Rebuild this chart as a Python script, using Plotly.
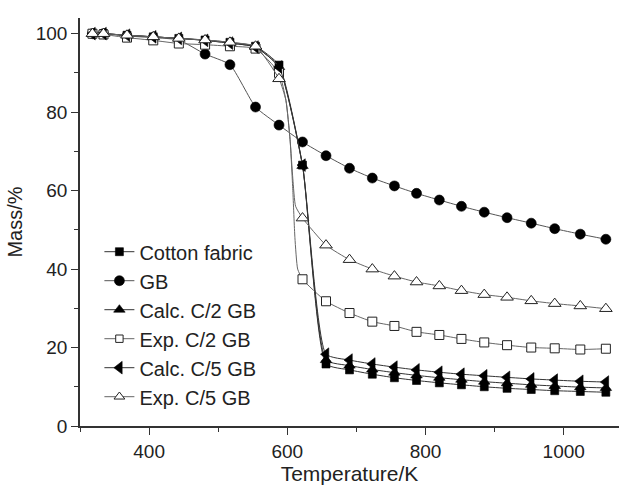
import plotly.graph_objects as go

# ---- data ----
temperature = [318, 334, 368, 406, 443, 481, 517, 554, 588, 622, 656, 690, 723,
               755, 787, 820, 852, 885, 918, 953, 987, 1024, 1061]

cotton = [100, 100, 99.6, 99.2, 98.8, 98.4, 97.8, 96.8, 92.0, 66.5, 15.8, 14.3, 13.2,
          12.3, 11.6, 11.0, 10.5, 10.0, 9.6, 9.3, 9.0, 8.8, 8.6]
gb = [100, 100, 99.4, 99.0, 98.4, 94.8, 92.1, 81.3, 76.7, 72.4, 68.9, 65.7, 63.2,
      61.2, 59.3, 57.6, 56.0, 54.5, 53.1, 51.7, 50.3, 48.9, 47.6]
calc_c2 = [100, 100, 99.6, 99.2, 98.8, 98.3, 97.6, 96.6, 91.5, 66.3, 16.8, 15.4, 14.4,
           13.6, 12.9, 12.3, 11.8, 11.3, 10.9, 10.5, 10.2, 9.9, 9.7]
exp_c2 = [100, 99.8, 99.0, 98.3, 97.5, 97.2, 96.8, 96.2, 90.0, 37.4, 31.8, 28.8, 26.6,
          25.5, 24.0, 23.2, 22.2, 21.3, 20.6, 20.0, 19.8, 19.5, 19.7]
calc_c5 = [100, 100, 99.6, 99.2, 98.8, 98.3, 97.6, 96.6, 91.5, 66.5, 18.3, 16.8, 15.8,
           15.0, 14.3, 13.7, 13.2, 12.8, 12.4, 12.0, 11.7, 11.4, 11.2]
exp_c5 = [100, 100, 99.6, 99.2, 98.8, 98.4, 97.8, 96.8, 88.5, 53.0, 46.1, 42.4, 40.0,
          38.2, 36.7, 35.7, 34.5, 33.5, 32.8, 31.9, 31.2, 30.6, 29.9]

exp_c2_drop_t = [598, 604, 608, 611, 615]
exp_c2_drop_m = [83, 73, 60, 48, 40]
exp_c5_drop_t = [598, 604, 608, 612]
exp_c5_drop_m = [83, 73, 63, 56]

names = ["Cotton fabric", "GB", "Calc. C/2 GB", "Exp. C/2 GB", "Calc. C/5 GB", "Exp. C/5 GB"]

FONT = "Liberation Sans, Arial, sans-serif"


def merged(t, m, extra_t, extra_m, size):
    pts = [(a, b, size) for a, b in zip(t, m)] + [(a, b, 0) for a, b in zip(extra_t, extra_m)]
    pts.sort(key=lambda p: p[0])
    return [p[0] for p in pts], [p[1] for p in pts], [p[2] for p in pts]


fig = go.Figure()

BLK = "#000000"
styles = [
    (cotton, [], [], dict(symbol="square", size=8, color=BLK, line=dict(width=0.6, color=BLK)), "#333333"),
    (gb, [], [], dict(symbol="circle", size=10, color=BLK, line=dict(width=0.6, color=BLK)), "#555555"),
    (calc_c2, [], [], dict(symbol="triangle-up", size=10, color=BLK, line=dict(width=0.6, color=BLK)), "#333333"),
    (exp_c2, exp_c2_drop_t, exp_c2_drop_m, dict(symbol="square", size=9, color="white", line=dict(width=1, color="#222222")), "#666666"),
    (calc_c5, [], [], dict(symbol="triangle-left", size=11, color=BLK, line=dict(width=0.6, color=BLK)), "#333333"),
    (exp_c5, exp_c5_drop_t, exp_c5_drop_m, dict(symbol="triangle-up", size=11, color="white", line=dict(width=1, color="#222222")), "#666666"),
]

for name, (vals, et, em, mk, lc) in zip(names, styles):
    xs, ys, sizes = merged(temperature, vals, et, em, mk["size"])
    mk = dict(mk)
    mk["size"] = sizes
    mk["opacity"] = 1
    fig.add_trace(go.Scatter(
        x=xs, y=ys, name=name, mode="lines+markers",
        line=dict(color=lc, width=1, shape="spline", smoothing=0.5),
        marker=mk, opacity=1,
    ))

axis_common = dict(
    showline=True, linecolor="#333333", linewidth=1.5,
    ticks="outside", ticklen=7, tickwidth=1.3, tickcolor="#333333",
    showgrid=False, zeroline=False, mirror=False, automargin=False,
    tickfont=dict(family=FONT, size=19, color="#222222"),
)

fig.update_layout(
    width=619, height=491,
    margin=dict(l=80, r=0, t=18, b=65),
    paper_bgcolor="white", plot_bgcolor="white",
    font=dict(family=FONT, color="#222222"),
    showlegend=True,
    legend=dict(
        x=0.036, y=0.475, xanchor="left", yanchor="top",
        font=dict(family=FONT, size=20, color="#222222"),
        bgcolor="rgba(0,0,0,0)", borderwidth=0,
        itemsizing="trace", tracegroupgap=0,
    ),
)

fig.update_xaxes(
    **axis_common,
    range=[300, 1080], tick0=0, dtick=200,
    minor=dict(ticks="outside", ticklen=4, dtick=100, tick0=0, tickcolor="#333333", tickwidth=1.3),
    title=dict(text="Temperature/K", font=dict(family=FONT, size=21, color="#222222"), standoff=3),
)
fig.update_yaxes(
    **axis_common,
    range=[0, 104], tick0=0, dtick=20,
    minor=dict(ticks="outside", ticklen=4, dtick=10, tick0=0, tickcolor="#333333", tickwidth=1.3),
    title=dict(text="Mass/%", font=dict(family=FONT, size=20, color="#222222"), standoff=8),
)

fig.write_html("out.html", config={"displayModeBar": False},
               post_script="document.body.style.margin='0';document.body.style.padding='0';")
